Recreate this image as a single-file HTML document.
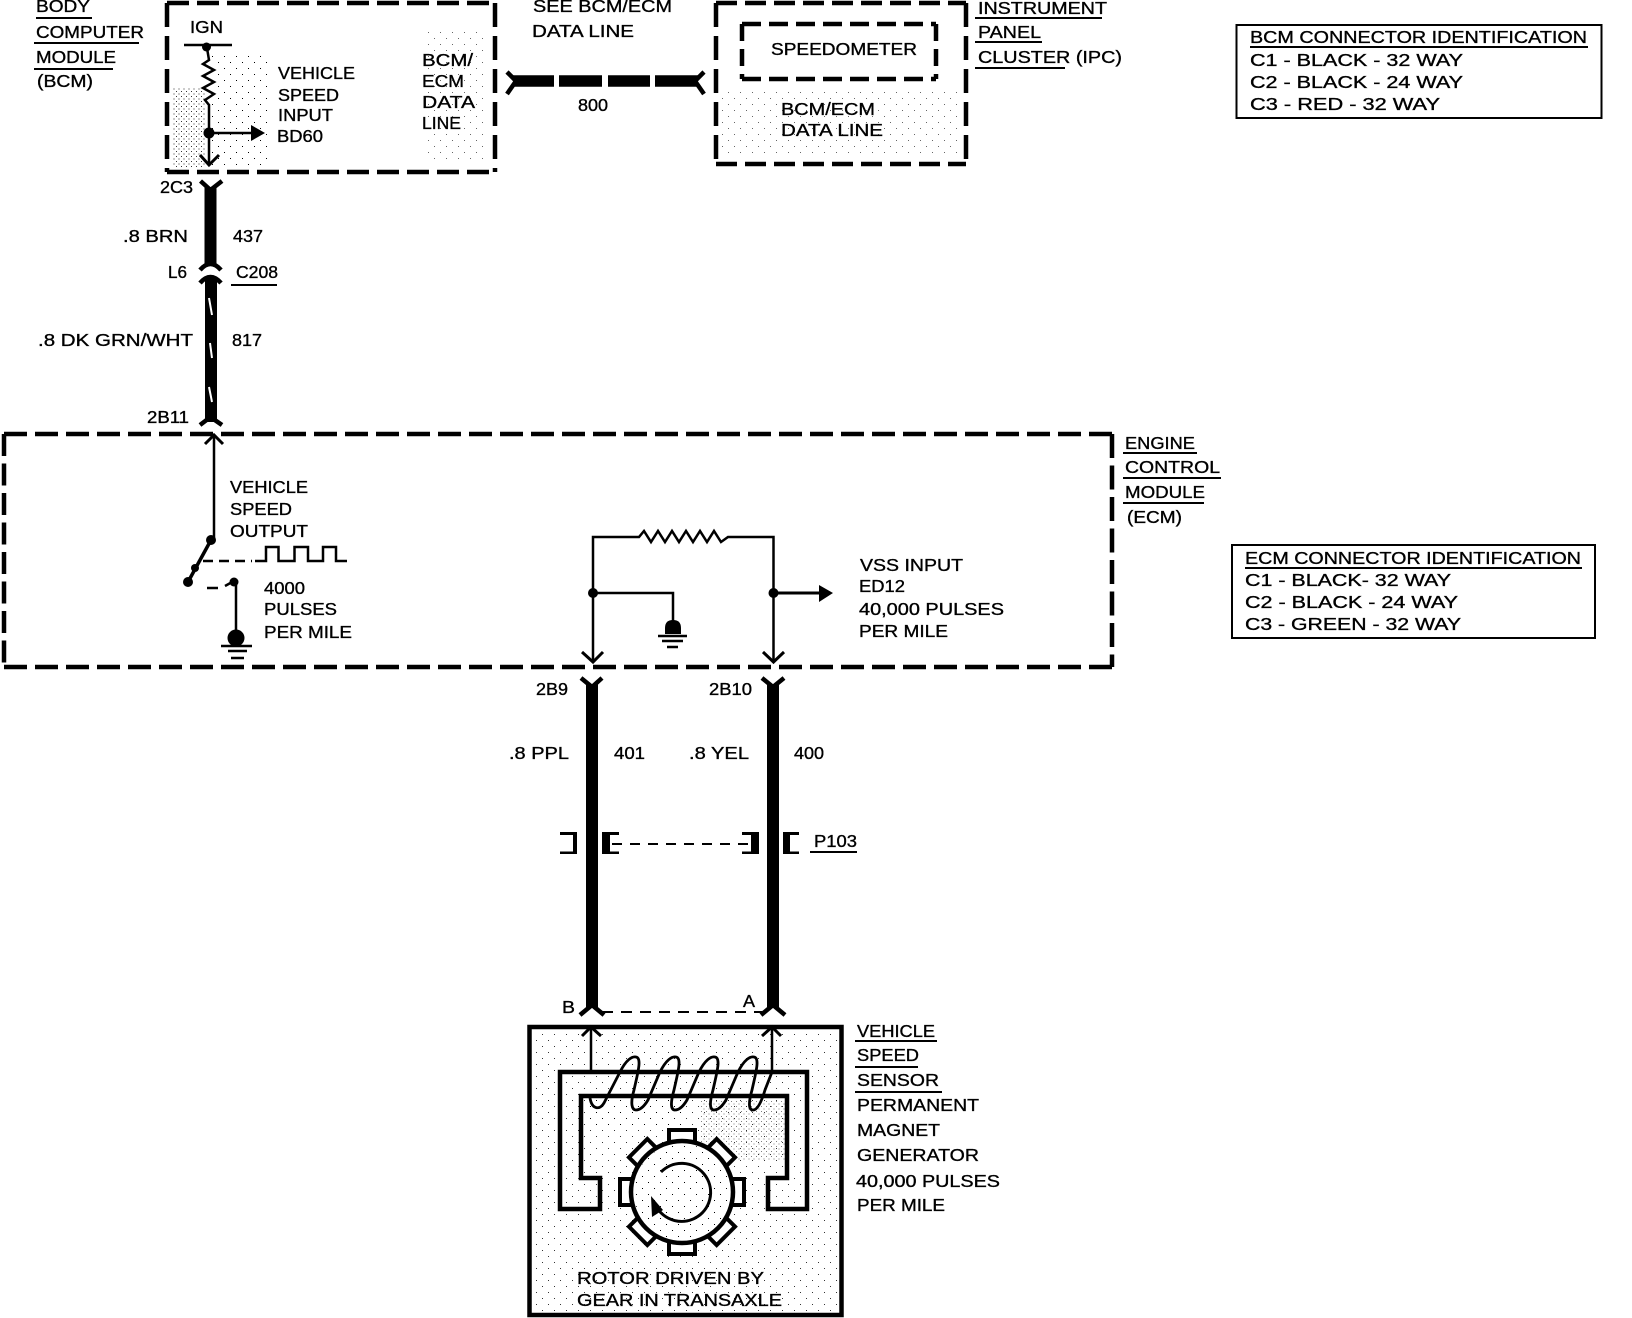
<!DOCTYPE html>
<html><head><meta charset="utf-8"><style>
html,body{margin:0;padding:0;background:#fff}
svg{display:block}
text{font-family:"Liberation Sans",sans-serif;font-size:17.5px;fill:#000;stroke:#000;stroke-width:.35}
.l{stroke:#000;fill:none;stroke-width:2.5}
.d{stroke:#000;fill:none;stroke-width:4.5}
.u{stroke:#000;fill:none;stroke-width:2}
.f{fill:#000;stroke:none}
</style></head><body>
<svg width="1632" height="1318" viewBox="0 0 1632 1318" xmlns="http://www.w3.org/2000/svg">
<defs>
<pattern id="s" width="5" height="5" patternUnits="userSpaceOnUse"><rect x="1" y="1" width="1" height="1" fill="#000"/><rect x="3.500" y="3.500" width="1" height="1" fill="#000"/></pattern>
<pattern id="t" width="12" height="12" patternUnits="userSpaceOnUse"><rect x="2" y="2" width="1" height="1" fill="#000"/><rect x="8" y="8" width="1" height="1" fill="#000"/></pattern>
</defs>
<rect width="1632" height="1318" fill="#fff"/>

<!-- stipple -->
<rect x="172" y="88" width="34" height="80" fill="url(#s)" opacity=".8"/>
<rect x="212" y="55" width="60" height="112" fill="url(#t)"/>
<rect x="425" y="30" width="62" height="130" fill="url(#t)" opacity=".6"/>
<rect x="722" y="90" width="235" height="65" fill="url(#t)" opacity=".6"/>
<rect x="534" y="1031" width="304" height="280" fill="url(#t)" opacity=".8"/>
<rect x="700" y="1100" width="85" height="60" fill="url(#s)" opacity=".5"/>
<rect x="585" y="1100" width="100" height="25" fill="url(#t)"/>

<!-- BCM box -->
<path class="d" stroke-dasharray="22 8" d="M167,3 H495"/>
<path class="d" stroke-dasharray="22 8" d="M167,172 H495"/>
<path class="d" stroke-dasharray="24 9" d="M167,3 V172"/>
<path class="d" stroke-dasharray="24 9" d="M495,3 V172"/>
<text x="36" y="12" textLength="54" lengthAdjust="spacingAndGlyphs">BODY</text><path class="u" d="M36,18H92"/>
<text x="36" y="38" textLength="108" lengthAdjust="spacingAndGlyphs">COMPUTER</text><path class="u" d="M34,43H139"/>
<text x="36" y="63" textLength="80" lengthAdjust="spacingAndGlyphs">MODULE</text><path class="u" d="M34,69H113"/>
<text x="37" y="87" textLength="56" lengthAdjust="spacingAndGlyphs">(BCM)</text>
<text x="190" y="33" textLength="33" lengthAdjust="spacingAndGlyphs">IGN</text>
<path class="l" d="M184,45H232"/>
<circle class="f" cx="206.500" cy="47" r="4.500"/>
<path class="l" d="M207,48 L209,60 L203,64 L214,70 L203,76 L214,82 L203,88 L214,94 L205,100 L209,105 V165"/>
<circle class="f" cx="209" cy="133" r="5.500"/>
<path class="l" d="M209,133H252"/><polygon class="f" points="251,125 265,133 251,141"/>
<path class="l" style="stroke-width:3" d="M200,155 L209,165 L219,155"/>
<text x="278" y="79" textLength="77" lengthAdjust="spacingAndGlyphs">VEHICLE</text>
<text x="278" y="101" textLength="61" lengthAdjust="spacingAndGlyphs">SPEED</text>
<text x="278" y="121" textLength="55" lengthAdjust="spacingAndGlyphs">INPUT</text>
<text x="277" y="142" textLength="46" lengthAdjust="spacingAndGlyphs">BD60</text>
<text x="422" y="66" textLength="51" lengthAdjust="spacingAndGlyphs">BCM/</text>
<text x="422" y="87" textLength="42" lengthAdjust="spacingAndGlyphs">ECM</text>
<text x="422" y="108" textLength="53" lengthAdjust="spacingAndGlyphs">DATA</text>
<text x="422" y="129" textLength="39" lengthAdjust="spacingAndGlyphs">LINE</text>

<!-- BCM-ECM wire -->
<text x="160" y="193" textLength="33" lengthAdjust="spacingAndGlyphs">2C3</text>
<rect class="f" x="204.500" y="187" width="12" height="78"/>
<path class="d" d="M200.500,181 L210.500,190 L222,181"/>
<text x="123" y="242" textLength="65" lengthAdjust="spacingAndGlyphs">.8 BRN</text>
<text x="233" y="242" textLength="30" lengthAdjust="spacingAndGlyphs">437</text>
<text x="168" y="278" textLength="19" lengthAdjust="spacingAndGlyphs">L6</text>
<text x="236" y="278" textLength="42" lengthAdjust="spacingAndGlyphs">C208</text><path class="u" d="M231,285H277"/>
<path class="d" d="M200,270 Q210.500,258 221,270"/>
<path class="d" d="M200,283 Q210.500,271 221,283"/>
<rect class="f" x="205" y="277" width="12" height="145"/>
<path stroke="#fff" stroke-width="2" d="M209,298 L212,315 M210,343 L212,358 M209,387 L212,402"/>
<text x="38" y="346" textLength="155" lengthAdjust="spacingAndGlyphs">.8 DK GRN/WHT</text>
<text x="232" y="346" textLength="30" lengthAdjust="spacingAndGlyphs">817</text>
<text x="147" y="423" textLength="42" lengthAdjust="spacingAndGlyphs">2B11</text>
<path class="d" d="M200,425 L210.500,417 L222,425"/>

<!-- data line -->
<text x="533" y="12" textLength="139" lengthAdjust="spacingAndGlyphs">SEE BCM/ECM</text>
<text x="532" y="37" textLength="102" lengthAdjust="spacingAndGlyphs">DATA LINE</text>
<path class="d" d="M507,72 L516,81 L507,94"/>
<path class="d" d="M704,72 L695,81 L704,94"/>
<path d="M513,81H698" stroke="#000" stroke-width="11.500" fill="none"/>
<path d="M554,81h5M602,81h6M650,81h5" stroke="#fff" stroke-width="13" fill="none"/>
<text x="578" y="111" textLength="30" lengthAdjust="spacingAndGlyphs">800</text>

<!-- IPC -->
<path class="d" stroke-dasharray="21 8" d="M716,3 H966"/>
<path class="d" stroke-dasharray="21 8" d="M716,164 H966"/>
<path class="d" stroke-dasharray="24 9" d="M716,3 V164"/>
<path class="d" stroke-dasharray="24 9" d="M966,3 V164"/>
<path class="d" stroke-dasharray="19 8" d="M742,24 H936"/>
<path class="d" stroke-dasharray="19 8" d="M742,79 H936"/>
<path class="d" stroke-dasharray="17 8" d="M742,24 V79"/>
<path class="d" stroke-dasharray="17 8" d="M936,24 V79"/>
<text x="771" y="55" textLength="146" lengthAdjust="spacingAndGlyphs">SPEEDOMETER</text>
<text x="781" y="115" textLength="94" lengthAdjust="spacingAndGlyphs">BCM/ECM</text>
<text x="781" y="136" textLength="102" lengthAdjust="spacingAndGlyphs">DATA LINE</text>
<text x="978" y="14" textLength="129" lengthAdjust="spacingAndGlyphs">INSTRUMENT</text><path class="u" d="M975,18H1102"/>
<text x="978" y="38" textLength="63" lengthAdjust="spacingAndGlyphs">PANEL</text><path class="u" d="M975,42H1042"/>
<text x="978" y="63" textLength="144" lengthAdjust="spacingAndGlyphs">CLUSTER (IPC)</text><path class="u" d="M975,68H1065"/>

<!-- BCM table -->
<rect x="1236.500" y="25" width="365" height="93" fill="#fff" stroke="#000" stroke-width="2"/>
<text x="1250" y="43" textLength="337" lengthAdjust="spacingAndGlyphs">BCM CONNECTOR IDENTIFICATION</text><path class="u" d="M1250,47H1588"/>
<text x="1250" y="66" textLength="213" lengthAdjust="spacingAndGlyphs">C1 - BLACK - 32 WAY</text>
<text x="1250" y="88" textLength="213" lengthAdjust="spacingAndGlyphs">C2 - BLACK - 24 WAY</text>
<text x="1250" y="110" textLength="190" lengthAdjust="spacingAndGlyphs">C3 - RED - 32 WAY</text>

<!-- ECM box -->
<path class="d" stroke-dasharray="23 8" d="M4,434 H1112"/>
<path class="d" stroke-dasharray="23 8" d="M4,667 H1112"/>
<path class="d" stroke-dasharray="22 7.500" d="M4,434 V667"/>
<path class="d" stroke-dasharray="24 7.500" d="M1112,434 V667"/>
<path class="l" style="stroke-width:3" d="M205,444 L214,435 L223,444"/>
<path class="l" d="M214,436 V540"/>
<circle class="f" cx="211" cy="540" r="5"/>
<path class="l" style="stroke-width:3.500" d="M211,540 L188,582"/>
<circle class="f" cx="195" cy="568" r="4"/><circle class="f" cx="188" cy="582" r="5"/>
<path class="l" stroke-dasharray="10 6" d="M203,561H252"/>
<path class="l" d="M255,561H266V547H278.500V561H294.500V547H308V561H323V547H336V561H347"/>
<path class="l" d="M207,588H218M225,586 L234,581"/>
<circle class="f" cx="234" cy="582" r="4.500"/>
<path class="l" d="M236,582V630"/>
<circle class="f" cx="236" cy="638" r="8.500"/>
<path class="l" d="M221,646H252M228,651H247M231,658H244"/>
<text x="230" y="493" textLength="78" lengthAdjust="spacingAndGlyphs">VEHICLE</text>
<text x="230" y="515" textLength="62" lengthAdjust="spacingAndGlyphs">SPEED</text>
<text x="230" y="537" textLength="78" lengthAdjust="spacingAndGlyphs">OUTPUT</text>
<text x="264" y="594" textLength="41" lengthAdjust="spacingAndGlyphs">4000</text>
<text x="264" y="615" textLength="73" lengthAdjust="spacingAndGlyphs">PULSES</text>
<text x="264" y="638" textLength="88" lengthAdjust="spacingAndGlyphs">PER MILE</text>

<path class="l" d="M593,661V537H639L644,531L651,542L658,531L665,542L672,531L679,542L686,531L693,542L700,531L707,542L714,531L721,542L728,537H773.500V661"/>
<path class="l" style="stroke-width:3" d="M582,652 L593,662 L603,652M763,652 L773.500,662 L784,652"/>
<circle class="f" cx="593" cy="593" r="5"/><circle class="f" cx="773.500" cy="593" r="5"/>
<path class="l" d="M593,593H673V622"/>
<path class="f" d="M665,634V628Q665,620 673,620Q681,620 681,628V634Z"/>
<path class="l" d="M658,636H687M662,641H683M667,647H678"/>
<path class="l" style="stroke-width:3" d="M773.500,593H820"/><polygon class="f" points="819,585 833,593 819,602"/>
<text x="860" y="571" textLength="103" lengthAdjust="spacingAndGlyphs">VSS INPUT</text>
<text x="859" y="592" textLength="46" lengthAdjust="spacingAndGlyphs">ED12</text>
<text x="859" y="615" textLength="145" lengthAdjust="spacingAndGlyphs">40,000 PULSES</text>
<text x="859" y="637" textLength="89" lengthAdjust="spacingAndGlyphs">PER MILE</text>
<text x="1125" y="449" textLength="70" lengthAdjust="spacingAndGlyphs">ENGINE</text><path class="u" d="M1123,453H1197"/>
<text x="1125" y="473" textLength="95" lengthAdjust="spacingAndGlyphs">CONTROL</text><path class="u" d="M1123,478H1221"/>
<text x="1125" y="498" textLength="80" lengthAdjust="spacingAndGlyphs">MODULE</text><path class="u" d="M1123,503H1204"/>
<text x="1127" y="523" textLength="55" lengthAdjust="spacingAndGlyphs">(ECM)</text>

<!-- ECM table -->
<rect x="1232" y="545" width="363" height="93" fill="#fff" stroke="#000" stroke-width="2"/>
<text x="1245" y="564" textLength="336" lengthAdjust="spacingAndGlyphs">ECM CONNECTOR IDENTIFICATION</text><path class="u" d="M1245,568H1582"/>
<text x="1245" y="586" textLength="206" lengthAdjust="spacingAndGlyphs">C1 - BLACK- 32 WAY</text>
<text x="1245" y="608" textLength="213" lengthAdjust="spacingAndGlyphs">C2 - BLACK - 24 WAY</text>
<text x="1245" y="630" textLength="216" lengthAdjust="spacingAndGlyphs">C3 - GREEN - 32 WAY</text>

<!-- lower wires -->
<rect class="f" x="586" y="684" width="12" height="324"/>
<rect class="f" x="767" y="684" width="12" height="324"/>
<path class="d" d="M581,678 L592,687 L602,678M762,678 L773,687 L784,678"/>
<path class="d" d="M580,1015 L592,1005 L604,1015M761,1015 L773,1005 L785,1015"/>
<text x="536" y="695" textLength="32" lengthAdjust="spacingAndGlyphs">2B9</text>
<text x="709" y="695" textLength="43" lengthAdjust="spacingAndGlyphs">2B10</text>
<text x="509" y="759" textLength="60" lengthAdjust="spacingAndGlyphs">.8 PPL</text>
<text x="614" y="759" textLength="31" lengthAdjust="spacingAndGlyphs">401</text>
<text x="689" y="759" textLength="60" lengthAdjust="spacingAndGlyphs">.8 YEL</text>
<text x="794" y="759" textLength="30" lengthAdjust="spacingAndGlyphs">400</text>
<path class="f" d="M560,832H577V854H560V851.500H573V835H560Z"/>
<path class="f" d="M602,832H619V835H610V851.500H619V854H602Z"/>
<path class="f" d="M742,832H759V854H742V851.500H751V835H742Z"/>
<path class="f" d="M783,832H799V835H790V851.500H799V854H783Z"/>
<path class="u" stroke-dasharray="10 8" d="M612,844H751"/>
<text x="814" y="847" textLength="43" lengthAdjust="spacingAndGlyphs">P103</text><path class="u" d="M810,852H857"/>
<text x="562" y="1013" textLength="13" lengthAdjust="spacingAndGlyphs">B</text>
<text x="743" y="1007" textLength="12" lengthAdjust="spacingAndGlyphs">A</text>
<path class="u" stroke-dasharray="11 8" d="M602,1012H762"/>

<!-- VSS -->
<rect x="529.500" y="1027" width="312" height="288" fill="none" stroke="#000" stroke-width="4.500"/>
<path class="l" d="M591,1028V1072M772,1028V1072"/>
<path class="l" style="stroke-width:3" d="M582,1036 L591,1027 L601,1036M762,1036 L772,1027 L781,1036"/>
<path class="l" style="stroke-width:4.500" d="M560,1072H807V1209H768V1178H787V1096H581V1178H600V1209H560Z"/>
<path class="l" style="stroke-width:2.800" d="M590,1098 C592,1110 600,1110 604,1103 L620,1072 C626,1060 632,1056 636,1057 C642,1058 638,1072 634,1090 C630,1104 632,1110 636,1110 C641,1110 645,1105 648,1100 L660,1072 C666,1060 672,1056 676,1057 C682,1058 678,1072 674,1090 C670,1104 671,1110 675,1110 C680,1110 684,1105 687,1100 L699,1072 C705,1060 711,1056 715,1057 C721,1058 717,1072 713,1090 C709,1104 710,1110 714,1110 C719,1110 723,1105 726,1100 L738,1072 C744,1060 750,1056 754,1057 C760,1058 756,1072 752,1090 C748,1104 749,1110 753,1110 C758,1110 762,1100 765,1090 L772,1072"/>
<g transform="translate(682 1192)">
<g fill="#fff" stroke="#000" stroke-width="4">
<rect x="-13" y="-62" width="26" height="14"/>
<rect x="-13" y="-62" width="26" height="14" transform="rotate(45)"/>
<rect x="-13" y="-62" width="26" height="14" transform="rotate(90)"/>
<rect x="-13" y="-62" width="26" height="14" transform="rotate(135)"/>
<rect x="-13" y="-62" width="26" height="14" transform="rotate(180)"/>
<rect x="-13" y="-62" width="26" height="14" transform="rotate(225)"/>
<rect x="-13" y="-62" width="26" height="14" transform="rotate(270)"/>
<rect x="-13" y="-62" width="26" height="14" transform="rotate(315)"/>
</g>
<circle r="51" fill="#fff" stroke="#000" stroke-width="4.500"/>
<circle r="48" fill="url(#t)"/>
</g>
<path class="l" style="stroke-width:3" d="M661,1172 A29,29 0 1 1 656,1206"/>
<polygon class="f" points="651,1196 652,1217 663,1210"/>
<text x="577" y="1284" textLength="187" lengthAdjust="spacingAndGlyphs">ROTOR DRIVEN BY</text>
<text x="577" y="1306" textLength="205" lengthAdjust="spacingAndGlyphs">GEAR IN TRANSAXLE</text>
<text x="857" y="1037" textLength="78" lengthAdjust="spacingAndGlyphs">VEHICLE</text><path class="u" d="M855,1041H937"/>
<text x="857" y="1061" textLength="62" lengthAdjust="spacingAndGlyphs">SPEED</text><path class="u" d="M855,1067H918"/>
<text x="857" y="1086" textLength="82" lengthAdjust="spacingAndGlyphs">SENSOR</text><path class="u" d="M855,1092H942"/>
<text x="857" y="1111" textLength="122" lengthAdjust="spacingAndGlyphs">PERMANENT</text>
<text x="857" y="1136" textLength="83" lengthAdjust="spacingAndGlyphs">MAGNET</text>
<text x="857" y="1161" textLength="122" lengthAdjust="spacingAndGlyphs">GENERATOR</text>
<text x="856" y="1187" textLength="144" lengthAdjust="spacingAndGlyphs">40,000 PULSES</text>
<text x="857" y="1211" textLength="88" lengthAdjust="spacingAndGlyphs">PER MILE</text>
</svg>
</body></html>
